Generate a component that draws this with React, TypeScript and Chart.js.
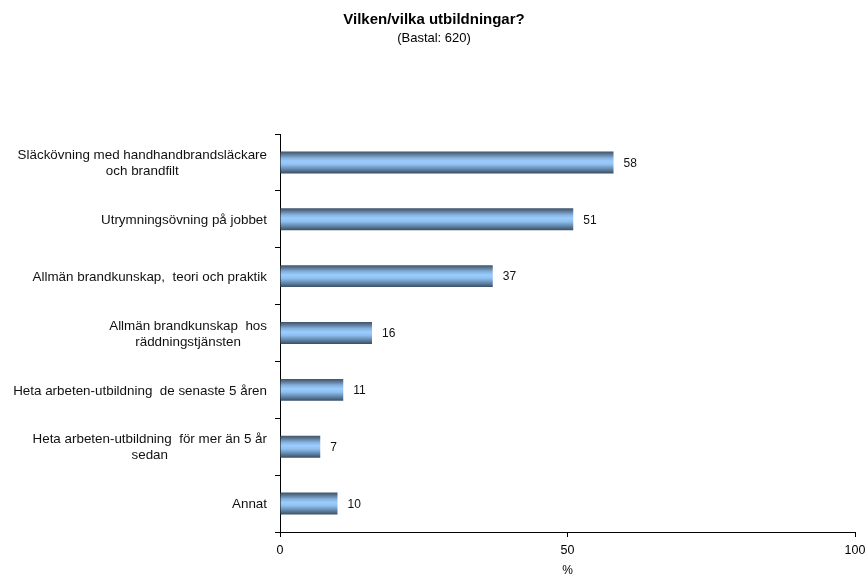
import React, { useEffect, useRef } from "react";
import { Chart, registerables } from "chart.js";

Chart.register(...registerables);

const categories: string[][] = [
  ["Släckövning med handhandbrandsläckare", "och brandfilt"],
  ["Utrymningsövning på jobbet"],
  ["Allmän brandkunskap,  teori och praktik"],
  ["Allmän brandkunskap  hos", "räddningstjänsten"],
  ["Heta arbeten-utbildning  de senaste 5 åren"],
  ["Heta arbeten-utbildning  för mer än 5 år", "sedan"],
  ["Annat"],
];
const values: number[] = [58, 51, 37, 16, 11, 7, 10];
const xTicks: number[] = [0, 50, 100];

const FONT = '"Liberation Sans", Arial, sans-serif';

const labelPlugin = {
  id: "customLabels",
  afterDraw(chart: any) {
    const ctx = chart.ctx;
    const y = chart.scales.y;
    const meta = chart.getDatasetMeta(0);
    ctx.save();
    ctx.fillStyle = "#111";
    // category labels, block right-aligned, lines centred within block
    ctx.font = `13.4px ${FONT}`;
    ctx.textBaseline = "middle";
    ctx.textAlign = "center";
    const right = chart.chartArea.left - 13;
    const lh = 16;
    categories.forEach((lines, i) => {
      const yc = y.getPixelForValue(i);
      const w = Math.max(...lines.map((l) => ctx.measureText(l).width));
      const cx = right - w / 2;
      const y0 = yc - ((lines.length - 1) * lh) / 2 + 1;
      lines.forEach((l, k) => ctx.fillText(l, cx, y0 + k * lh));
    });
    // value labels
    ctx.font = `12px ${FONT}`;
    ctx.textAlign = "left";
    meta.data.forEach((bar: any, i: number) => {
      ctx.fillText(String(values[i]), bar.x + 10, bar.y + 1);
    });
    ctx.restore();
  },
};

export default function App() {
  const ref = useRef<HTMLCanvasElement>(null);
  useEffect(() => {
    const canvas = ref.current!;
    const chart = new Chart(canvas, {
      type: "bar",
      data: {
        labels: categories.map((c) => c.join(" ")),
        datasets: [
          {
            data: values,
            backgroundColor: (c: any) => {
              const ch = c.chart;
              const ys = ch.scales && ch.scales.y;
              if (!ys || !ch.chartArea) return "#99ccff";
              const yc = ys.getPixelForValue(c.dataIndex);
              const g = ch.ctx.createLinearGradient(0, yc - 11, 0, yc + 11);
              g.addColorStop(0, "#3e526a");
              g.addColorStop(0.12, "#5a7592");
              g.addColorStop(0.3, "#86b2de");
              g.addColorStop(0.45, "#9acdff");
              g.addColorStop(0.6, "#8fc0f0");
              g.addColorStop(0.8, "#6489ae");
              g.addColorStop(1, "#3a4d63");
              return g;
            },
            borderWidth: 0,
            barPercentage: 0.386 / 0.9,
            categoryPercentage: 0.9,
          },
        ],
      },
      options: {
        indexAxis: "y",
        animation: false,
        responsive: false,
        layout: { padding: 0 },
        plugins: {
          legend: { display: false },
          tooltip: { enabled: false },
          title: {
            display: true,
            text: "Vilken/vilka utbildningar?",
            color: "#000",
            font: { family: FONT, size: 15, weight: "bold" },
            padding: { top: 11, bottom: 1 },
          },
          subtitle: {
            display: true,
            text: "(Bastal: 620)",
            color: "#000",
            font: { family: FONT, size: 13 },
            padding: { top: 1, bottom: 87.4 },
          },
        },
        scales: {
          x: {
            type: "linear",
            min: 0,
            max: 100,
            afterBuildTicks: (s: any) => {
              s.ticks = xTicks.map((v) => ({ value: v }));
            },
            afterFit: (s: any) => {
              s.height = 44;
              s.paddingRight = 13;
              s.paddingLeft = 0;
            },
            grid: {
              drawOnChartArea: false,
              drawTicks: true,
              tickLength: 5,
              color: "#000",
            },
            border: { color: "#000", width: 1 },
            ticks: {
              color: "#000",
              font: { family: FONT, size: 12.5 },
              padding: 6,
              maxRotation: 0,
            },
            title: {
              display: true,
              text: "%",
              color: "#000",
              font: { family: FONT, size: 12 },
              padding: { top: 0, bottom: -2 },
            },
          },
          y: {
            type: "category",
            afterFit: (s: any) => {
              s.width = 280;
            },
            grid: {
              offset: true,
              drawOnChartArea: false,
              drawTicks: true,
              tickLength: 5,
              color: "#000",
            },
            border: { color: "#000", width: 1 },
            ticks: { display: false },
          },
        },
      },
      plugins: [labelPlugin],
    } as any);
    return () => chart.destroy();
  }, []);
  return (
    <div style={{ position: "absolute", left: 0, top: 0, width: 868, height: 576, background: "#fff" }}>
      <canvas ref={ref} width={868} height={576} />
    </div>
  );
}
